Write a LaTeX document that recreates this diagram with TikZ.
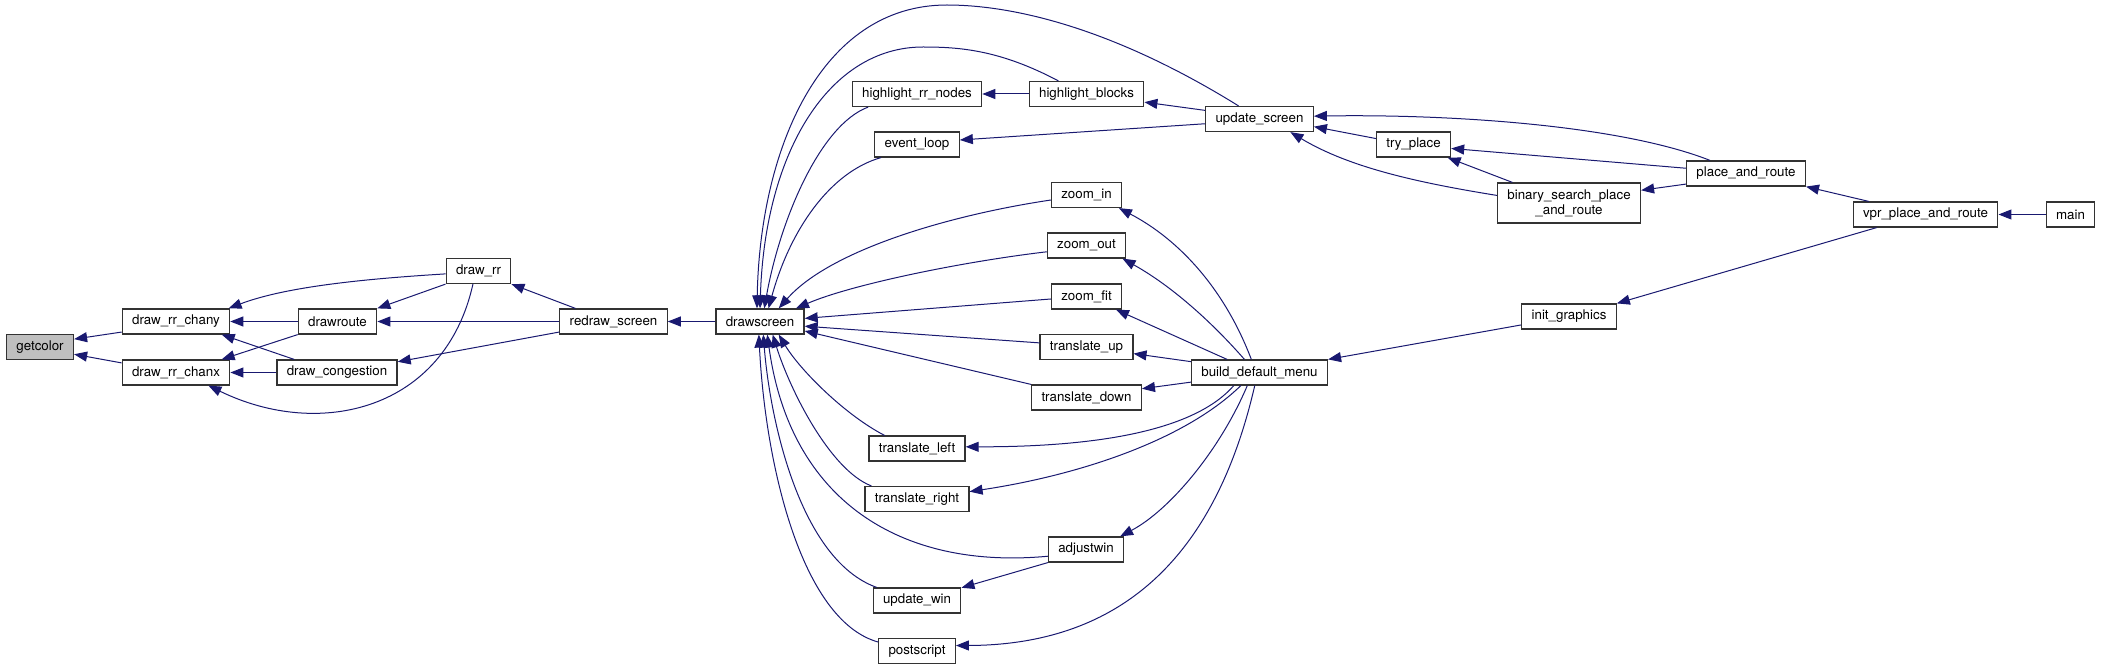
\documentclass[tikz,border=0pt]{standalone}
\usepackage{fontspec}
\setmainfont{TeX Gyre Heros}
\usetikzlibrary{arrows.meta}
\definecolor{edgeblue}{HTML}{191970}
\definecolor{nodegray}{HTML}{BFBFBF}

\begin{document}
\begin{tikzpicture}[x=0.75pt, y=-0.75pt,
  fn/.style={draw=black!80, line width=0.9pt, fill=white, inner xsep=7.4pt,
    inner ysep=0pt, minimum height=18.75pt, font=\fontsize{10}{11.3}\selectfont},
  call/.style={->, draw=edgeblue, line width=0.75pt},
  >={Triangle[length=9.75pt,width=7.5pt]}]
\useasboundingbox (0,0) rectangle (2101,670);

\node[fn, fill=nodegray] (getcolor) at (40,347) {getcolor};
\node[fn] (chany) at (176,321.5) {draw\_rr\_chany};
\node[fn] (chanx) at (176,372.5) {draw\_rr\_chanx};
\node[fn] (drawroute) at (337.5,321.5) {drawroute};
\node[fn] (congestion) at (337,372.5) {draw\_congestion};
\node[fn] (drawrr) at (478.5,271) {draw\_rr};
\node[fn] (redraw) at (613.5,321.5) {redraw\_screen};
\node[fn] (drawscreen) at (760,321.5) {drawscreen};

\node[fn] (hlnodes) at (917,94) {highlight\_rr\_nodes};
\node[fn] (hlblocks) at (1086.5,94) {highlight\_blocks};
\node[fn] (eventloop) at (917,144.5) {event\_loop};
\node[fn] (zoomin) at (1086.5,195) {zoom\_in};
\node[fn] (zoomout) at (1086.5,245.5) {zoom\_out};
\node[fn] (zoomfit) at (1086.5,296.5) {zoom\_fit};
\node[fn] (transup) at (1086.5,347) {translate\_up};
\node[fn] (transdown) at (1086.5,397.5) {translate\_down};
\node[fn] (transleft) at (917,448.5) {translate\_left};
\node[fn] (transright) at (917,499) {translate\_right};
\node[fn] (adjustwin) at (1086,549.5) {adjustwin};
\node[fn] (updatewin) at (917,600.5) {update\_win};
\node[fn] (postscript) at (917,651) {postscript};

\node[fn] (updscreen) at (1259.5,119) {update\_screen};
\node[fn] (menu) at (1259.5,372.5) {build\_default\_menu};
\node[fn] (tryplace) at (1413.5,144.5) {try\_place};
\node[fn, minimum height=30pt, align=center] (binsearch) at (1569,203) {binary\_search\_place\\\_and\_route};
\node[fn] (initgfx) at (1569,316.5) {init\_graphics};
\node[fn] (placeroute) at (1746,173.5) {place\_and\_route};
\node[fn] (vpr) at (1925.5,214.5) {vpr\_place\_and\_route};
\node[fn] (main) at (2070.5,214.5) {main};

\draw[call] (chany.191) -- (getcolor.13);
\draw[call] (chanx.170) -- (getcolor.348);
\draw[call] (drawroute.west) -- (chany.east);
\draw[call] (drawrr.185) .. controls (380,278) and (290,285) .. (chany.14);
\draw[call] (drawroute.south west) -- (chanx.16);
\draw[call] (congestion.163) -- (chany.344);
\draw[call] (congestion.west) -- (chanx.east);
\draw[call] (drawrr.247) .. controls (445,410) and (320,440) .. (chanx.338);
\draw[call] (drawrr.south west) -- (drawroute.north east);
\draw[call] (redraw.west) -- (drawroute.east);
\draw[call] (redraw.161) -- (drawrr.south east);
\draw[call] (redraw.191) -- (congestion.10);
\draw[call] (drawscreen.west) -- (redraw.east);

\draw[call] (updscreen.148) .. controls (1100,20) and (1000,5) .. (947,5)
  .. controls (820,5) and (760,150) .. (drawscreen.103);
\draw[call] (hlblocks.155) .. controls (1000,50) and (960,47) .. (923,47)
  .. controls (830,47) and (765,150) .. (drawscreen.90);
\draw[call] (hlnodes.195) .. controls (820,125) and (780,220) .. (drawscreen.72);
\draw[call] (eventloop.200) .. controls (830,172) and (790,230) .. (drawscreen.57);
\draw[call] (zoomin.188) .. controls (950,215) and (830,250) .. (drawscreen.35);
\draw[call] (zoomout.189) .. controls (960,262) and (850,285) .. (drawscreen.20);
\draw[call] (zoomfit.184) -- (drawscreen.4);
\draw[call] (transup.175) -- (drawscreen.354);
\draw[call] (transdown.north west) -- (drawscreen.348);
\draw[call] (transleft.158) .. controls (845,415) and (800,370) .. (drawscreen.325);
\draw[call] (transright.164) .. controls (830,470) and (790,390) .. (drawscreen.314);
\draw[call] (adjustwin.190) .. controls (900,570) and (790,500) .. (drawscreen.299);
\draw[call] (updatewin.162) .. controls (800,560) and (770,420) .. (drawscreen.284);
\draw[call] (postscript.167) .. controls (800,620) and (765,460) .. (drawscreen.265);

\draw[call] (hlblocks.west) -- (hlnodes.east);
\draw[call] (updscreen.171) -- (hlblocks.352);
\draw[call] (updscreen.185) -- (eventloop.6);
\draw[call] (tryplace.171) -- (updscreen.352);
\draw[call] (binsearch.174) .. controls (1420,183) and (1350,168) .. (updscreen.337);
\draw[call] (placeroute.160) .. controls (1620,125) and (1450,114) .. (updscreen.3);
\draw[call] (placeroute.175) -- (tryplace.354);
\draw[call] (binsearch.160) -- (tryplace.339);
\draw[call] (placeroute.190) -- (binsearch.10);
\draw[call] (vpr.167) -- (placeroute.south east);
\draw[call] (vpr.195) -- (initgfx.north east);
\draw[call] (main.west) -- (vpr.east);
\draw[call] (initgfx.190) -- (menu.north east);

\draw[call] (menu.122) .. controls (1225,290) and (1180,240) .. (zoomin.338);
\draw[call] (menu.139) .. controls (1210,320) and (1170,285) .. (zoomout.340);
\draw[call] (menu.158) -- (zoomfit.336);
\draw[call] (menu.171) -- (transup.352);
\draw[call] (menu.188) -- (transdown.9);
\draw[call] (menu.207) .. controls (1195,430) and (1100,447) .. (transleft.2);
\draw[call] (menu.215) .. controls (1185,440) and (1080,475) .. (transright.8);
\draw[call] (menu.227) .. controls (1220,450) and (1170,510) .. (adjustwin.21);
\draw[call] (menu.250) .. controls (1210,580) and (1100,645) .. (postscript.8);
\draw[call] (adjustwin.south west) -- (updatewin.16);
\end{tikzpicture}
\end{document}
